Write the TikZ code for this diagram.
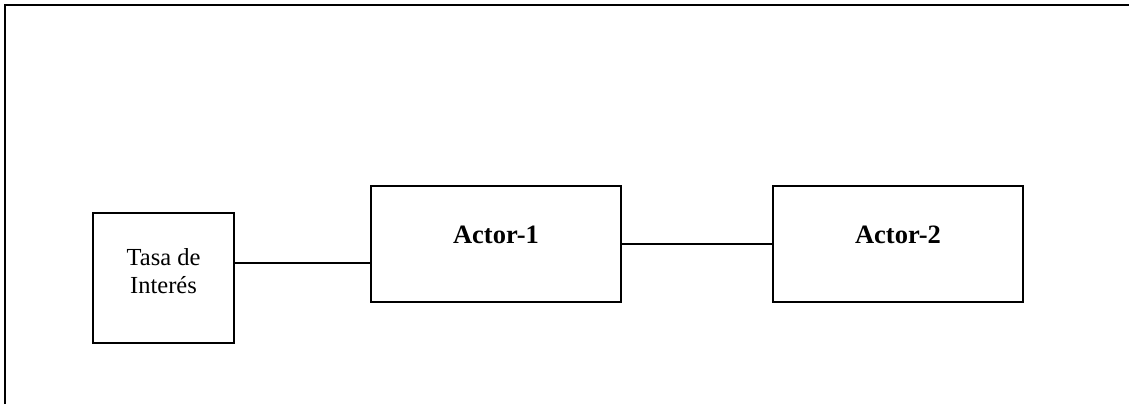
\documentclass[tikz,border=0pt]{standalone}
\usepackage{fontspec}
\setmainfont{Liberation Serif}
\usetikzlibrary{positioning}

\begin{document}
\begin{tikzpicture}[
		x=1pt,
		y=1pt,
		font=\fontsize{24.5pt}{28pt}\selectfont,
		line width=2
	]
		\tikzset{
			factor/.style={draw, rectangle, inner sep=0, align=center, minimum width=141, minimum height=130, text depth=14},
			actor/.style={draw, rectangle, inner sep=0, minimum width=250, text height=58, text depth=58, font=\fontsize{26.5pt}{30pt}\selectfont\bfseries},
		}

		\useasboundingbox (0,0) rectangle (1129,404);
		% frame, only top and left edges show
		\draw (5,0) -- (5,399) -- (1129,399);

		\node[factor] (tasa) at (163.5,126) {Tasa de\\Interés};
		\node[actor] (actor1) at (496,160) {Actor-1};
		\node[actor, right=150pt of actor1] (actor2) {Actor-2};

		\coordinate (tasaout) at ([yshift=15]tasa.east);
		\draw (tasaout) -- (tasaout -| actor1.west);
		\draw (actor1) -- (actor2);
	\end{tikzpicture}
\end{document}
